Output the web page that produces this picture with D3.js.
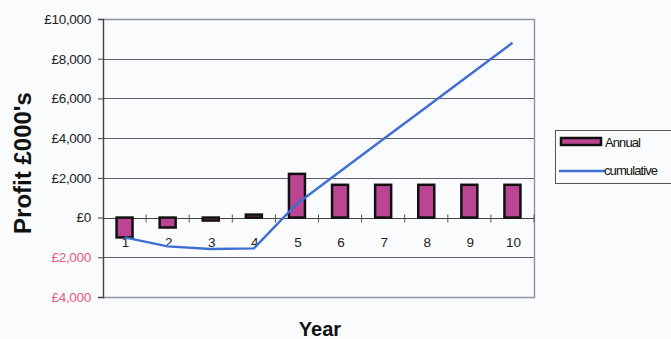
<!DOCTYPE html>
<html>
<head>
<meta charset="utf-8">
<script src="https://cdn.jsdelivr.net/npm/d3@7"></script>
<style>
  html, body { margin: 0; padding: 0; background: #f9fbfc; }
  svg { display: block; font-family: "Liberation Sans", Arial, sans-serif; }
</style>
</head>
<body>
<svg id="chart" width="671" height="339"></svg>
<script>
// Annual profit and running total per year (£000's)
const years = [1, 2, 3, 4, 5, 6, 7, 8, 9, 10];
const annual = [-1000, -500, -150, 150, 2200, 1650, 1650, 1650, 1650, 1650];
const cumulative = [-1000, -1450, -1580, -1550, 700, 2320, 3940, 5560, 7180, 8800];
const yTicks = [-4000, -2000, 0, 2000, 4000, 6000, 8000, 10000];
const seriesNames = ["Annual", "cumulative"];

const barFill = "#bb4593";
const lineColor = "#3d6fd2";
const negColor = "#ea5a84";

const svg = d3.select("#chart");
const plot = { left: 103, right: 534, top: 19, bottom: 297 };

const x = d3.scaleBand().domain(years).range([plot.left, plot.right]).paddingInner(0).paddingOuter(0);
const y = d3.scaleLinear().domain([-4000, 10000]).range([plot.bottom, plot.top]);

const fmt = v => "£" + d3.format(",")(Math.abs(v));

// horizontal gridlines
svg.append("g")
  .selectAll("line")
  .data(yTicks.filter(v => v !== -4000 && v !== 10000))
  .join("line")
  .attr("x1", plot.left).attr("x2", plot.right)
  .attr("y1", d => Math.round(y(d)) + 0.5).attr("y2", d => Math.round(y(d)) + 0.5)
  .attr("stroke", "#5f5f66").attr("stroke-width", 1);

// plot frame: top, right, bottom
const frame = svg.append("g").attr("stroke", "#8e93a0").attr("stroke-width", 1.4).attr("fill", "none");
frame.append("path")
  .attr("d", `M${plot.left},${Math.round(y(10000)) + 0.5}H${plot.right + 0.5}V${Math.round(y(-4000)) + 0.5}H${plot.left}`);

// y axis
const yAxis = svg.append("g")
  .attr("transform", `translate(${plot.left},0)`)
  .call(d3.axisLeft(y).tickValues(yTicks).tickSize(5).tickPadding(7).tickFormat(fmt));
yAxis.select(".domain").attr("stroke", "#444").attr("stroke-width", 1.4);
yAxis.selectAll(".tick line").attr("stroke", "#444");
yAxis.selectAll(".tick text")
  .attr("font-size", "13.5px")
  .attr("font-family", "Liberation Sans, Arial, sans-serif")
  .attr("letter-spacing", "-0.3px")
  .attr("fill", d => d < 0 ? negColor : "#222");

// category axis along the zero line
const y0 = Math.round(y(0)) + 0.5;
svg.append("line")
  .attr("x1", plot.left).attr("x2", plot.right)
  .attr("y1", y0).attr("y2", y0)
  .attr("stroke", "#444").attr("stroke-width", 1.2);
svg.append("g")
  .selectAll("line")
  .data(years)
  .join("line")
  .attr("x1", d => x(d) + x.bandwidth())
  .attr("x2", d => x(d) + x.bandwidth())
  .attr("y1", y0 - 4).attr("y2", y0 + 4)
  .attr("stroke", "#555").attr("stroke-width", 1);

// annual bars
const barW = 16;
svg.append("g")
  .selectAll("rect")
  .data(years.map((yr, i) => ({ yr, v: annual[i] })))
  .join("rect")
  .attr("x", d => x(d.yr) + x.bandwidth() / 2 - barW / 2)
  .attr("y", d => y(Math.max(0, d.v)))
  .attr("width", barW)
  .attr("height", d => Math.abs(y(d.v) - y(0)))
  .attr("fill", barFill)
  .attr("stroke", "#111")
  .attr("stroke-width", 2.5);

// category labels
svg.append("g")
  .selectAll("text")
  .data(years)
  .join("text")
  .attr("x", d => x(d) + x.bandwidth() / 2 + 1)
  .attr("y", 247)
  .attr("text-anchor", "middle")
  .attr("font-size", "13.5px")
  .attr("fill", "#222")
  .text(d => d);

// cumulative line
const line = d3.line()
  .x((d, i) => x(years[i]) + x.bandwidth() / 2)
  .y(d => y(d));
svg.append("path")
  .datum(cumulative)
  .attr("d", line)
  .attr("fill", "none")
  .attr("stroke", lineColor)
  .attr("stroke-width", 2.4)
  .attr("stroke-linejoin", "round");

// axis titles
svg.append("text")
  .attr("transform", "translate(31,163) rotate(-90)")
  .attr("text-anchor", "middle")
  .attr("font-size", "24px")
  .attr("font-weight", "bold")
  .attr("fill", "#111")
  .text("Profit £000's");
svg.append("text")
  .attr("x", 320).attr("y", 336)
  .attr("text-anchor", "middle")
  .attr("font-size", "20px")
  .attr("font-weight", "bold")
  .attr("fill", "#111")
  .text("Year");

// legend
const lg = svg.append("g");
lg.append("rect")
  .attr("x", 555.5).attr("y", 130.5).attr("width", 140).attr("height", 53)
  .attr("fill", "none").attr("stroke", "#555").attr("stroke-width", 1);
lg.append("rect")
  .attr("x", 561).attr("y", 138).attr("width", 40).attr("height", 7)
  .attr("fill", barFill).attr("stroke", "#111").attr("stroke-width", 2.5);
lg.append("line")
  .attr("x1", 559).attr("x2", 605).attr("y1", 171).attr("y2", 171)
  .attr("stroke", lineColor).attr("stroke-width", 2.4);
lg.selectAll("text.lab")
  .data(seriesNames)
  .join("text")
  .attr("class", "lab")
  .attr("x", (d, i) => i === 0 ? 605 : 604)
  .attr("y", (d, i) => i === 0 ? 147 : 175)
  .attr("font-size", "13px")
  .attr("letter-spacing", "-0.9px")
  .attr("fill", "#111")
  .text(d => d);
</script>
</body>
</html>
